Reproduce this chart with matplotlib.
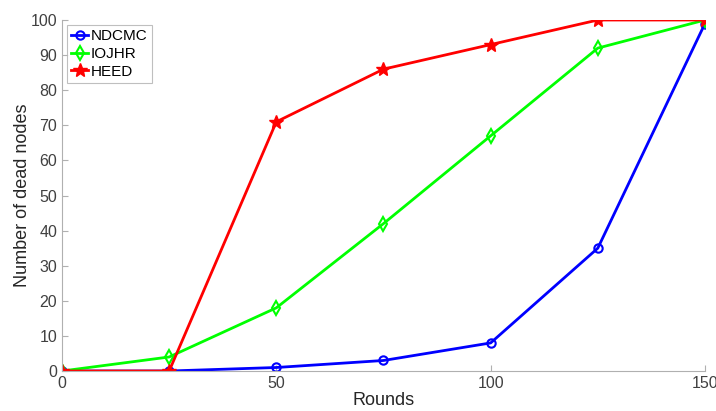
import matplotlib

matplotlib.use("Agg")
import matplotlib.pyplot as plt

plt.rcParams["font.family"] = ["Liberation Sans", "DejaVu Sans"]

rounds = [0, 25, 50, 75, 100, 125, 150]
ndcmc = [0, 0, 1, 3, 8, 35, 99]
iojhr = [0, 4, 18, 42, 67, 92, 100]
heed = [0, 0, 71, 86, 93, 100, 100]

x_ticks = [0, 50, 100, 150]
y_ticks = list(range(0, 101, 10))


def main():
    fig = plt.figure(figsize=(7.16, 4.11), dpi=100)
    ax = fig.add_axes([0.0866, 0.0973, 0.898, 0.854])

    ax.plot(rounds, ndcmc, color="#0000ff", lw=2, marker="o", ms=6,
            mfc="none", mew=1.5, label="NDCMC")
    ax.plot(rounds, iojhr, color="#00ff00", lw=2, marker="d", ms=7,
            mfc="none", mew=1.5, label="IOJHR")
    ax.plot(rounds, heed, color="#ff0000", lw=2, marker="*", ms=10,
            label="HEED")

    ax.set_xlim(0, 150)
    ax.set_ylim(0, 100)
    ax.set_xticks(x_ticks)
    ax.set_yticks(y_ticks)
    ax.spines["top"].set_visible(False)
    ax.spines["right"].set_visible(False)
    for side in ("left", "bottom"):
        ax.spines[side].set_color("#b0b0b0")
        ax.spines[side].set_linewidth(0.8)
    ax.tick_params(direction="in", length=4, color="#b0b0b0",
                   labelcolor="#404040", labelsize=11.5)
    ax.set_xlabel("Rounds", fontsize=13, color="#262626", labelpad=1)
    ax.set_ylabel("Number of dead nodes", fontsize=13, color="#262626",
                  labelpad=0)

    leg = ax.legend(loc="upper left", fontsize=11, frameon=True, fancybox=False,
                    handlelength=1.1, handletextpad=0.15, borderpad=0.3,
                    labelspacing=0.25, borderaxespad=0.3)
    leg.get_frame().set_edgecolor("#b0b0b0")
    leg.get_frame().set_linewidth(0.8)

    fig.savefig("out.png", dpi=100)


if __name__ == "__main__":
    main()
